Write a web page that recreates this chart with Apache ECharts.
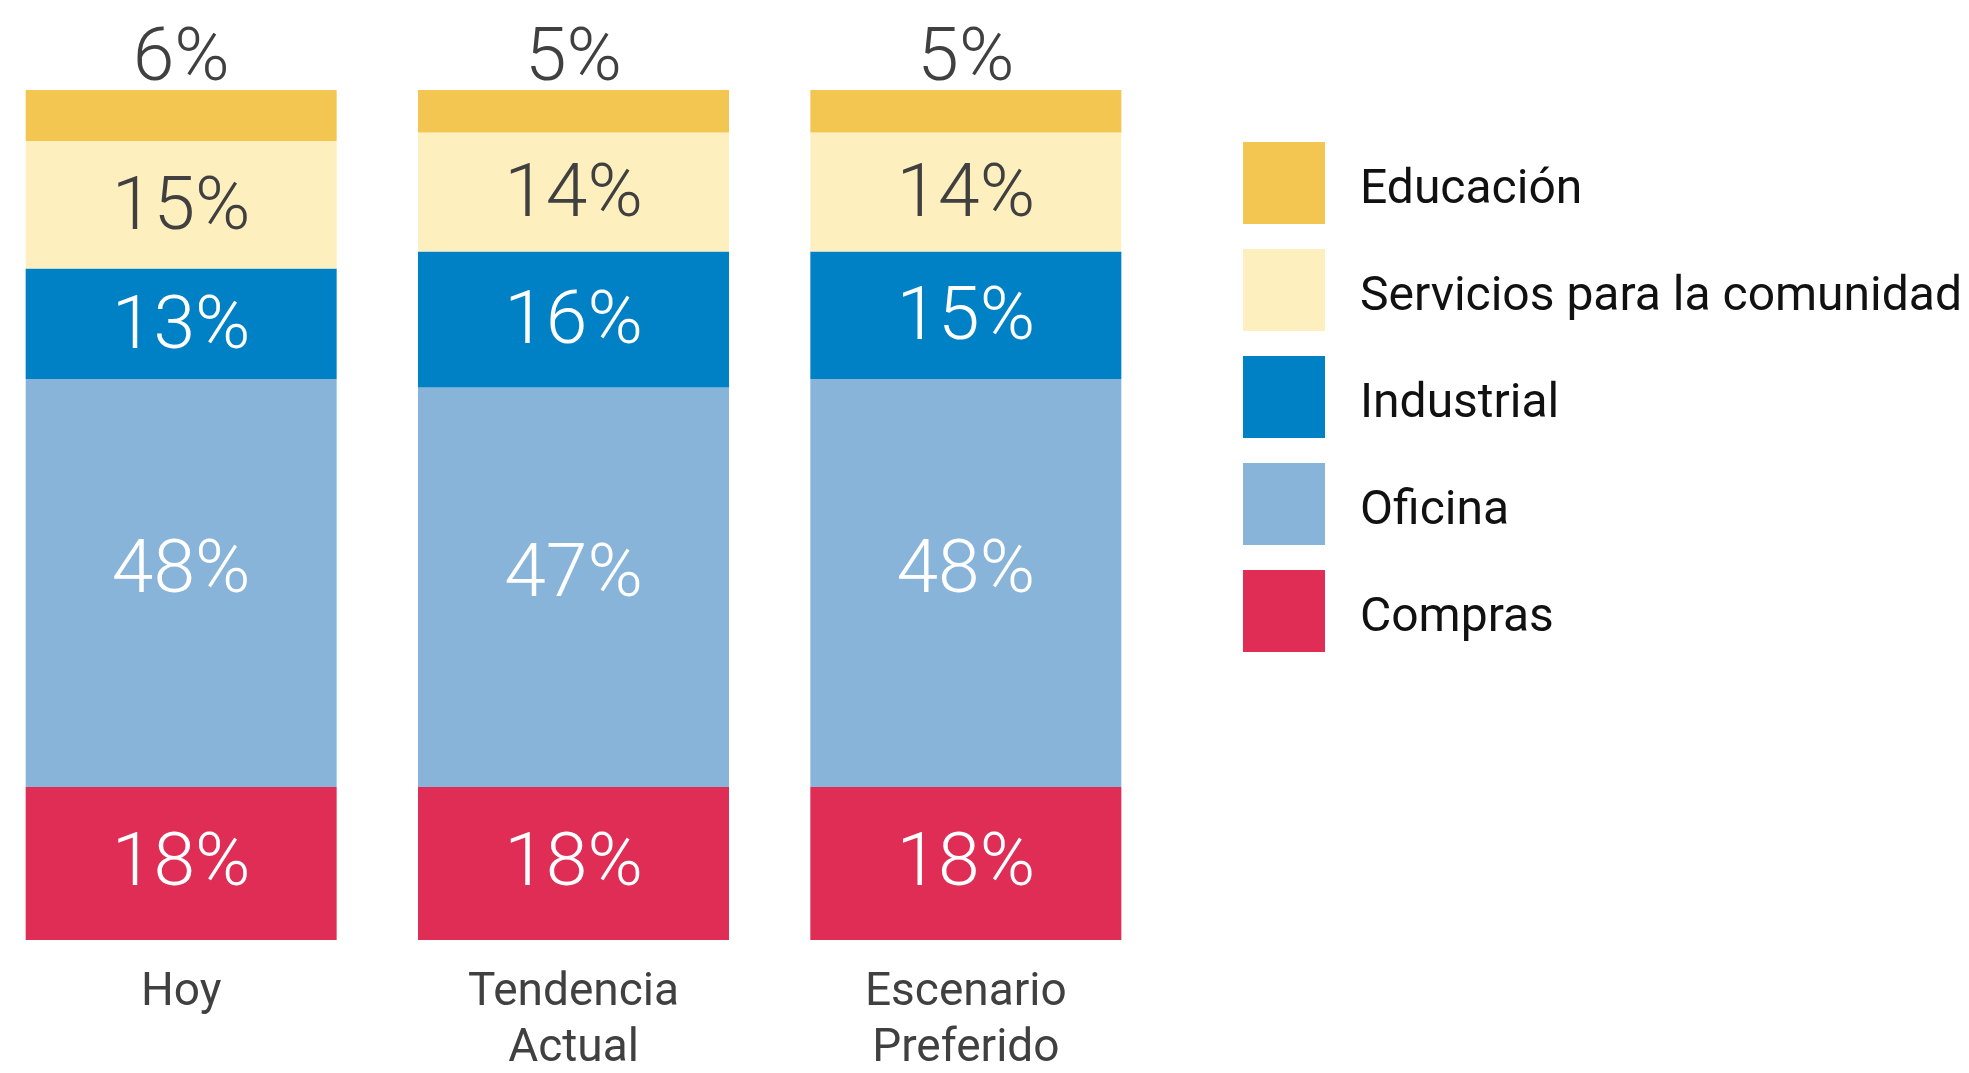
<!DOCTYPE html>
<html>
<head>
<meta charset="utf-8">
<script src="https://cdn.jsdelivr.net/npm/echarts@6/dist/echarts.min.js"></script>
<style>
html,body{margin:0;padding:0;background:#fff;}
#chart{width:1969px;height:1073px;}
</style>
</head>
<body>
<div id="chart"></div>
<script>
const categories = ['Hoy', 'Tendencia\nActual', 'Escenario\nPreferido'];
const compras = [18, 18, 18];
const oficina = [48, 47, 48];
const industrial = [13, 16, 15];
const servicios = [15, 14, 14];
const educacion = [6, 5, 5];
const seriesNames = ['Compras', 'Oficina', 'Industrial', 'Servicios para la comunidad', 'Educación'];
const legendOrder = ['Educación', 'Servicios para la comunidad', 'Industrial', 'Oficina', 'Compras'];
const colors = ['#DF2D55', '#89B4D9', '#0081C6', '#FEEFBE', '#F3C651'];
const labelColors = ['#ffffff', '#ffffff', '#ffffff', '#404040', '#404040'];
const labelOffsets = [[0, 3], [0, -10], [0, 5], [0, 5], [0, 0]];
const seriesData = [compras, oficina, industrial, servicios, educacion];

const FONT = 'Roboto';
const chart = echarts.init(document.getElementById('chart'));

const series = seriesNames.map((name, i) => ({
  name: name,
  type: 'bar',
  stack: 'total',
  barWidth: 311,
  data: seriesData[i],
  itemStyle: { color: colors[i] },
  label: {
    show: true,
    position: i === 4 ? 'top' : 'inside',
    distance: i === 4 ? -9 : 5,
    offset: labelOffsets[i],
    formatter: '{c}%',
    color: labelColors[i],
    fontFamily: FONT,
    fontWeight: 300,
    fontSize: 75
  },
  emphasis: { disabled: true },
  animation: false
}));

chart.setOption({
  animation: false,
  grid: { left: -15, width: 1177, top: 90, height: 850, containLabel: false, outerBoundsMode: 'none' },
  xAxis: {
    type: 'category',
    data: categories,
    axisLine: { show: false },
    axisTick: { show: false },
    axisLabel: {
      margin: 25,
      color: '#404040',
      fontFamily: FONT,
      fontSize: 46,
      lineHeight: 56,
      interval: 0
    }
  },
  yAxis: {
    type: 'value',
    min: 0,
    max: 100,
    show: false,
    splitLine: { show: false }
  },
  legend: {
    data: legendOrder,
    orient: 'vertical',
    left: 1243,
    top: 142,
    padding: 0,
    itemWidth: 82,
    itemHeight: 82,
    itemGap: 25,
    icon: 'rect',
    selectedMode: false,
    formatter: function (name) { return '{t|' + name + '}'; },
    textStyle: {
      fontFamily: FONT,
      fontSize: 48,
      color: '#111111',
      padding: [0, 0, 0, 30],
      rich: {
        t: {
          fontFamily: FONT,
          fontSize: 48,
          color: '#111111',
          padding: [15, 0, 0, 0]
        }
      }
    }
  },
  series: series
});
</script>
</body>
</html>
